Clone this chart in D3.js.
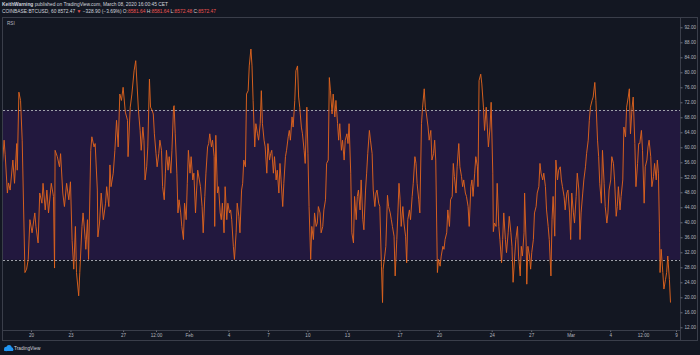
<!DOCTYPE html>
<html><head><meta charset="utf-8">
<script src="https://cdn.jsdelivr.net/npm/d3@7"></script>
<style>
html,body{margin:0;padding:0;background:#131722;}
svg{display:block;}
text{font-family:"Liberation Sans",Arial,sans-serif;}
</style></head>
<body>
<svg id="chart" width="700" height="355"></svg>
<script>
// ---- data ----
const startISO = "2020-01-17T12:00:00Z";   // hour offsets below are counted from here
const hours = [8,11,13,17,19,22,27,30,34,35,38,41,44,49,52,55,58,62,67,69,73,76,80,82,86,89,92,97,101,103,104,108,112,114,118,121,125,129,132,135,138,141,143,147,149,153,155,159,160,163,165,169,171,175,177,181,182,185,188,192,196,198,202,204,206,210,213,216,219,222,225,228,232,236,237,241,244,248,251,
256,259,261,264,266,268,271,273,276,278,281,283,285,288,290,293,295,298,300,303,305,307,310,312,315,317,320,321,323,326,328,330,333,335,338,340,343,345,347,350,352,355,357,360,362,364,367,369,372,374,377,379,382,384,386,389,391,394,395,397,400,402,405,407,409,412,414,417,419,422,424,426,429,431,434,436,439,441,444,446,448,451,453,456,458,461,463,465,468,470,473,475,478,480,482,485,487,490,492,495,497,
499,502,504,507,509,512,514,516,519,521,524,526,529,531,533,536,538,541,543,546,548,550,553,555,558,560,563,565,567,570,572,575,577,580,582,584,587,589,592,594,597,599,602,604,606,609,611,614,616,619,621,623,626,628,631,633,636,638,640,643,645,648,650,653,655,657,660,662,665,667,670,672,674,677,679,682,684,687,689,691,694,696,699,701,702,705,707,710,712,715,717,719,722,724,727,729,731,733,735,738,740,743,745,
747,750,752,755,757,760,762,764,767,769,772,774,777,779,781,784,786,789,791,794,796,798,801,803,806,808,811,813,815,818,820,823,825,828,830,832,835,837,840,842,845,847,849,852,854,857,859,862,864,866,869,871,874,875,877,880,882,885,887,890,892,894,897,899,902,903,905,908,910,913,915,918,920,922,925,927,930,932,935,937,939,942,944,947,949,952,954,956,959,960,963,964,966,969,971,973,976,978,981,983,986,988,990,993,
995,998,1000,1003,1005,1008,1010,1012,1015,1017,1020,1022,1025,1027,1029,1032,1034,1037,1039,1042,1044,1046,1049,1051,1054,1056,1059,1061,1063,1066,1068,1071,1073,1076,1078,1080,1083,1085,1088,1090,1093,1095,1097,1100,1102,1105,1107,1110,1112,1114,1117,1119,1122,1124,1127,1129,1131,1134,1136,1139,1141,1144,1146,1149,1151,1153,1156,1158,1161,1163,1166,1168,1170,1173,1175,1178,1180,1183,1185,1187,1190,1192,1195,1197,1200,1202,1204,1206,1207,1209,1212,1214,1217,1219,1221,1224,1226];
const rsi = [55.7,61.9,58.0,47.8,50.5,48.6,56.6,50.4,61.0,53.9,74.7,72.5,61.9,26.6,27.5,30.1,40.7,37.2,42.5,38.9,34.5,47.8,45.1,50.4,43.3,48.6,42.5,50.4,46.9,27.8,59.2,57.5,54.8,58.3,47.8,44.2,50.4,46.0,50.8,35.2,27.5,38.9,26.6,20.4,26.6,38.9,42.5,35.4,32.8,40.7,30.1,59.2,62.8,60.1,61.0,48.6,36.1,39.8,47.8,40.7,45.1,49.5,44.2,55.3,49.5,53.1,59.2,67.2,60.1,74.2,72.5,76.0,69.4,67.2,57.5,70.7,74.2,80.4,83.1,
69.8,64.5,59.2,65.4,61.9,51.3,54.8,60.1,78.2,70.7,69.8,68.9,63.6,58.3,54.8,58.3,61.9,59.2,49.5,46.0,53.1,59.2,53.9,57.5,53.1,59.2,70.7,71.1,63.6,53.1,42.5,46.0,42.5,38.9,35.4,45.1,40.7,50.4,59.2,53.1,57.5,51.3,53.1,42.5,48.6,53.9,51.3,49.5,44.2,37.2,46.9,53.1,60.1,61.0,63.6,60.1,61.9,57.5,38.9,63.2,47.8,49.5,42.5,40.7,45.1,37.2,49.5,40.7,45.1,42.5,43.3,40.7,33.6,30.1,37.2,45.1,41.6,37.2,48.6,50.4,56.6,54.8,74.2,75.1,81.7,86.2,81.7,72.5,60.1,66.3,63.6,61.9,66.3,75.1,66.3,61.9,60.1,53.1,61.0,56.6,58.3,
59.2,53.1,57.5,51.3,53.9,47.8,55.7,51.3,44.2,50.4,57.5,59.2,62.8,64.5,61.9,68.1,65.4,72.5,80.4,81.7,73.4,70.7,65.4,63.6,59.2,55.7,70.7,58.3,44.2,30.1,38.9,35.4,42.5,38.9,39.8,44.2,42.5,37.2,38.9,43.3,46.0,55.7,56.6,78.6,75.1,68.9,74.2,68.1,72.5,66.3,61.9,66.3,59.2,61.9,56.6,61.9,63.6,61.0,66.3,53.1,37.2,34.5,46.9,40.7,46.9,48.6,43.3,51.3,40.7,38.0,48.6,53.1,58.3,64.5,61.9,58.3,48.6,44.2,47.8,48.6,45.1,44.2,28.3,18.6,27.5,31.0,33.6,47.2,44.2,42.5,40.7,38.9,36.3,25.7,35.4,42.5,50.4,46.0,38.9,44.2,39.8,36.3,29.2,
40.7,43.3,40.7,46.9,50.4,57.5,55.7,50.4,46.0,42.5,66.3,70.7,75.6,70.7,68.9,65.4,61.9,64.5,56.6,58.3,61.9,56.6,26.6,30.1,28.3,31.0,33.6,32.8,35.4,37.2,43.3,38.9,46.0,46.9,55.7,52.2,47.8,54.8,61.0,54.8,52.2,49.5,51.3,47.8,46.9,44.2,38.9,49.5,51.3,46.9,53.1,57.5,54.8,49.5,77.8,79.5,76.9,70.7,64.5,70.7,65.4,60.1,65.4,72.0,53.1,37.5,39.8,38.9,50.4,38.9,35.4,29.2,35.4,42.5,35.4,31.9,37.2,41.6,37.2,33.6,24.0,31.0,35.4,38.9,31.0,25.7,33.6,31.0,37.2,47.8,33.6,23.5,33.6,31.0,27.5,31.9,35.4,42.5,44.2,47.8,49.5,55.7,53.1,51.3,
53.1,49.5,43.3,38.9,35.4,25.7,40.7,46.9,36.3,56.6,51.3,53.9,54.8,51.3,49.5,46.9,43.3,47.8,48.6,42.5,35.4,47.8,42.5,39.8,46.9,53.1,48.6,35.4,42.5,47.8,51.3,54.8,58.3,61.9,67.2,70.7,72.5,73.4,77.3,72.5,61.9,57.5,50.4,45.1,59.2,50.4,44.2,39.8,42.5,48.6,51.3,57.5,55.7,51.3,41.6,44.2,49.5,43.3,46.9,51.3,65.4,62.8,70.7,73.4,75.6,63.6,70.7,73.4,61.0,49.5,55.7,61.0,61.0,64.5,59.2,45.1,54.8,56.6,60.1,61.9,57.5,49.5,52.2,55.7,51.3,56.6,53.1,37.2,26.6,32.8,26.6,22.2,24.8,26.6,31.0,24.8,18.6];

const xDomain = ["2020-01-17T21:00:00Z", "2020-03-09T07:20:00Z"];
const yDomain = [11.28, 94.75];
const bandLevels = [30, 70];
const yTickValues = d3.range(12, 93, 4);
const xTickDates = ["2020-01-20T00:00Z","2020-01-23T00:00Z","2020-01-27T00:00Z","2020-01-29T12:00Z","2020-02-01T00:00Z","2020-02-04T00:00Z","2020-02-07T00:00Z","2020-02-10T00:00Z","2020-02-13T00:00Z","2020-02-17T00:00Z","2020-02-20T00:00Z","2020-02-24T00:00Z","2020-02-27T00:00Z","2020-03-01T00:00Z","2020-03-04T00:00Z","2020-03-06T12:00Z","2020-03-09T00:00Z"];
const xTickLabels = ["20","23","27","12:00","Feb","4","7","10","13","17","20","24","27","Mar","4","12:00","9"];

// ---- layout ----
const L = 3, R = 680, T = 17, B = 330;
const svg = d3.select("#chart");
const base = new Date(startISO).getTime();
const data = hours.map((h, i) => ({t: new Date(base + h * 3600e3), v: rsi[i]}));

const x = d3.scaleUtc().domain(xDomain.map(d => new Date(d))).range([L, R]);
const y = d3.scaleLinear().domain(yDomain).range([B, T]);

svg.append("rect").attr("width", 700).attr("height", 355).attr("fill", "#131722");

// band
svg.append("rect")
  .attr("x", L).attr("width", R - L)
  .attr("y", y(bandLevels[1])).attr("height", y(bandLevels[0]) - y(bandLevels[1]))
  .attr("fill", "#22183e");

// dashed levels
svg.selectAll("line.lvl").data(bandLevels).join("line")
  .attr("class", "lvl")
  .attr("x1", L).attr("x2", R)
  .attr("y1", d => Math.round(y(d)) + 0.5).attr("y2", d => Math.round(y(d)) + 0.5)
  .attr("stroke", "#9ea1a9").attr("stroke-width", 1).attr("stroke-dasharray", "2,2");

// RSI line
svg.append("defs").append("clipPath").attr("id", "clip")
  .append("rect").attr("x", L).attr("y", T).attr("width", R - L).attr("height", B - T);
svg.append("path").datum(data)
  .attr("clip-path", "url(#clip)")
  .attr("fill", "none")
  .attr("stroke", "#dc621d")
  .attr("stroke-width", 0.95)
  .attr("stroke-linejoin", "round")
  .attr("d", d3.line().x(d => x(d.t)).y(d => y(d.v)));

// frame lines
const frame = svg.append("g").attr("stroke", "#3a3e4a").attr("stroke-width", 1).attr("fill", "none");
frame.append("rect").attr("x", 2.5).attr("y", 17.5).attr("width", 695).attr("height", 323);
frame.append("line").attr("x1", R + 0.5).attr("x2", R + 0.5).attr("y1", 17.5).attr("y2", 340.5);
frame.append("line").attr("x1", 2.5).attr("x2", R + 0.5).attr("y1", B + 0.5).attr("y2", B + 0.5);

// y axis
const yAxis = svg.append("g").attr("transform", `translate(${R + 0.5},0)`)
  .call(d3.axisRight(y).tickValues(yTickValues).tickSize(2).tickPadding(2).tickFormat(d3.format(".2f")));
yAxis.select(".domain").remove();
yAxis.selectAll("line").attr("stroke", "#6a6d78");
yAxis.selectAll("text").attr("fill", "#b2b5be").attr("font-size", 4.6);

// x axis
const xAxis = svg.append("g").attr("transform", `translate(0,${B + 0.5})`)
  .call(d3.axisBottom(x).tickValues(xTickDates.map(d => new Date(d))).tickSize(1.5).tickPadding(2)
    .tickFormat((d, i) => xTickLabels[i]));
xAxis.select(".domain").remove();
xAxis.selectAll("line").attr("stroke", "#6a6d78");
xAxis.selectAll("text").attr("fill", "#b2b5be").attr("font-size", 4.6);

// pane label
svg.append("text").attr("x", 7).attr("y", 25).attr("fill", "#b2b5be").attr("font-size", 4.6).text("RSI");

// header
const h1 = svg.append("text").attr("x", 2).attr("y", 6.3).attr("font-size", 4.85).attr("fill", "#d1d4dc");
h1.append("tspan").attr("font-weight", "bold").text("KeithWarning");
h1.append("tspan").text(" published on TradingView.com, March 08, 2020 16:00:45 CET");
const red = "#ef5350";
const h2 = svg.append("text").attr("x", 2).attr("y", 12.6).attr("font-size", 4.85).attr("fill", "#d1d4dc");
[["COINBASE:BTCUSD, 60  8572.47 ", null], ["▼", red], [" −328.90 (−3.69%)  O:", null], ["8581.64", red],
 [" H:", null], ["8581.64", red], [" L:", null], ["8572.48", red], [" C:", null], ["8572.47", red]]
 .forEach(([t, c]) => { const s = h2.append("tspan").text(t); if (c) s.attr("fill", c); });

// footer logo
const logo = svg.append("g").attr("transform", "translate(3,345)").attr("fill", "#2196f3");
logo.append("circle").attr("cx", 3.2).attr("cy", 4).attr("r", 2.2);
logo.append("circle").attr("cx", 6).attr("cy", 2.6).attr("r", 2.6);
logo.append("circle").attr("cx", 8.4).attr("cy", 4.2).attr("r", 1.9);
logo.append("rect").attr("x", 1).attr("y", 4).attr("width", 9.3).attr("height", 2.1).attr("rx", 1);
svg.append("text").attr("x", 14).attr("y", 350).attr("font-size", 4.8).attr("fill", "#d1d4dc").text("TradingView");
</script>
</body></html>
